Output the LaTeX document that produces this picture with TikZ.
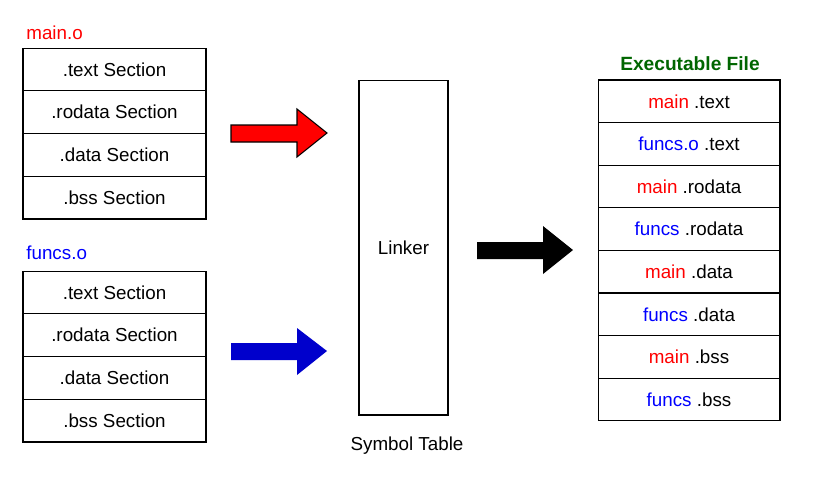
\documentclass[tikz,border=0pt]{standalone}
\usepackage{fontspec}
\setmainfont{Liberation Sans}
\usepackage{xcolor}
\usepackage{tikz}
\usetikzlibrary{positioning}

\definecolor{objred}{HTML}{FF0000}
\definecolor{objblue}{HTML}{0000FF}
\definecolor{arrowblue}{HTML}{0000CC}
\definecolor{titlegreen}{HTML}{006600}

\tikzset{
	cell/.style={draw, line width=0.6pt, minimum width=3.66cm, minimum height=0.855cm, inner sep=0pt, font=\fontsize{10.7}{12}\selectfont},
	outcell/.style={cell, minimum width=3.64cm, minimum height=0.852cm},
	caption/.style={font=\fontsize{10.7}{12}\selectfont, inner sep=0pt},
	bigarrow/.style={line width=0.6pt, line join=miter}
}

\begin{document}
\begin{tikzpicture}[x=0.02cm, y=-0.02cm]
	\useasboundingbox (0,0) rectangle (827,481);

	% main.o
	\node[caption, anchor=west, text=objred] (mainlbl) at (26,33) {main.o};
	\node[cell] (mtext) at (114.5,69.4) {.text Section};
	\node[cell] (mrodata) at (114.5,112.1) {.rodata Section};
	\node[cell] (mdata) at (114.5,154.9) {.data Section};
	\node[cell] (mbss) at (114.5,197.6) {.bss Section};

	% funcs.o
	\node[caption, anchor=west, text=objblue] (funcslbl) at (26,253) {funcs.o};
	\node[cell] (ftext) at (114.5,292.4) {.text Section};
	\node[cell] (frodata) at (114.5,335.1) {.rodata Section};
	\node[cell] (fdata) at (114.5,377.9) {.data Section};
	\node[cell] (fbss) at (114.5,420.6) {.bss Section};

	% linker
	\node[draw, line width=0.6pt, minimum width=1.78cm, minimum height=6.7cm, inner sep=0pt, font=\fontsize{10.7}{12}\selectfont] (linker) at (403.5,247.5) {Linker};
	\node[caption, below=0.42cm of linker, xshift=0.07cm] (symtab) {Symbol Table};

	% arrows
	\draw[bigarrow, fill=objred] (231,125) -- (297,125) -- (297,109) -- (327,133) -- (297,157) -- (297,142) -- (231,142) -- cycle;
	\fill[arrowblue] (231,343) -- (297,343) -- (297,328) -- (327,351) -- (297,375) -- (297,360) -- (231,360) -- cycle;
	\fill[black] (477,242) -- (543,242) -- (543,226) -- (573,250) -- (543,274) -- (543,259) -- (477,259) -- cycle;

	% executable
	\node[caption, text=titlegreen, font=\fontsize{10.9}{12}\selectfont\bfseries] (exetitle) at (690,64) {Executable File};
	\node[outcell] (e1) at (689,101.3) {\textcolor{objred}{main} .text};
	\node[outcell] (e2) at (689,143.9) {\textcolor{objblue}{funcs.o} .text};
	\node[outcell] (e3) at (689,186.5) {\textcolor{objred}{main} .rodata};
	\node[outcell] (e4) at (689,229.1) {\textcolor{objblue}{funcs} .rodata};
	\node[outcell] (e5) at (689,271.7) {\textcolor{objred}{main} .data};
	\node[outcell] (e6) at (689,314.3) {\textcolor{objblue}{funcs} .data};
	\node[outcell] (e7) at (689,356.9) {\textcolor{objred}{main} .bss};
	\node[outcell] (e8) at (689,399.5) {\textcolor{objblue}{funcs} .bss};
\end{tikzpicture}
\end{document}
